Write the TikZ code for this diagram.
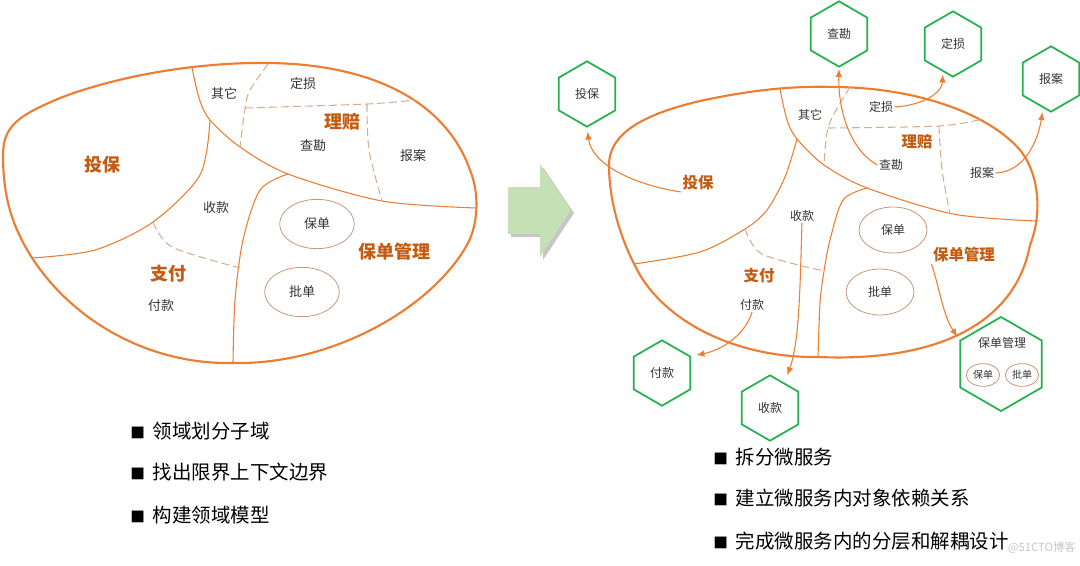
\documentclass[tikz,border=0pt]{standalone}
\usepackage{fontspec}
\setmainfont{Noto Sans CJK SC}
\usetikzlibrary{shapes.geometric,arrows.meta}
\definecolor{org}{HTML}{ED7D31}
\definecolor{lblc}{HTML}{C55A11}
\definecolor{dshc}{HTML}{D9AE8E}
\definecolor{ellc}{HTML}{C8967A}
\definecolor{hexg}{HTML}{22B14C}
\definecolor{txtc}{HTML}{333333}
\definecolor{arrg}{HTML}{C5E0B4}
\begin{document}
\begin{tikzpicture}[x=0.75pt,y=-0.75pt,
  outerline/.style={draw=org,line width=1.6pt},
  innerline/.style={draw=org,line width=0.8pt},
  dashline/.style={draw=dshc,line width=0.8pt,dash pattern=on 6pt off 3pt},
  lsmall/.style={font=\fontsize{9.75}{11}\selectfont,text=txtc,inner sep=1pt},
  lbig/.style={font=\fontsize{13.5}{15}\selectfont\bfseries,text=lblc,inner sep=1pt},
  rsmall/.style={font=\fontsize{9}{10}\selectfont,text=txtc,inner sep=1pt},
  rbig/.style={font=\fontsize{11.6}{13}\selectfont\bfseries,text=lblc,inner sep=1pt},
  ellnode/.style={ellipse,draw=ellc,line width=0.6pt,inner sep=0pt},
  hexnode/.style={regular polygon,regular polygon sides=6,shape border rotate=30,draw=hexg,line width=1.3pt,minimum size=49pt,inner sep=0pt,font=\fontsize{9}{10}\selectfont,text=txtc},
  conn/.style={draw=org,line width=0.8pt,-{Latex[length=6pt,width=5pt]}},
  bullet/.style={anchor=west,font=\fontsize{14.6}{16}\selectfont,text=black,inner sep=0pt}
]
\useasboundingbox (0,0) rectangle (1080,565);

% ================= LEFT DIAGRAM =================
\draw[outerline] (3,155) .. controls (3,125) and (20,115) .. (60,98)
  .. controls (120,75) and (200,62) .. (268,63)
  .. controls (370,64) and (445,100) .. (470,170)
  .. controls (480,195) and (478,225) .. (467,245)
  .. controls (430,310) and (330,365) .. (233,363)
  .. controls (130,365) and (45,300) .. (15,225)
  .. controls (5,200) and (3,175) .. cycle;
\draw[innerline] plot[smooth] coordinates {(192,67) (199,98) (210,120) (240,147) (288,174) (382,201) (476,208)};
\draw[innerline] plot[smooth] coordinates {(210,120) (200,175) (153,222) (95,250) (32,258)};
\draw[innerline] plot[smooth] coordinates {(288,174) (260,190) (243,240) (235,300) (233,363)};
\draw[dashline] plot[smooth] coordinates {(153,222) (172,247) (240,268)};
\draw[dashline] plot[smooth] coordinates {(268,64) (250,90) (245,108) (240,147)};
\draw[dashline] plot[smooth] coordinates {(245,108) (367,104) (415,100)};
\draw[dashline] plot[smooth] coordinates {(367,104) (369,150) (382,201)};

\node[lbig] (ltb) at (102,165) {投保};
\node[lsmall] (lqt) at (224,93) {其它};
\node[lsmall] (lds) at (303,84) {定损};
\node[lbig] (llp) at (342,122) {理赔};
\node[lsmall] (lkc) at (313,146) {查勘};
\node[lsmall] (lba) at (413,156) {报案};
\node[lsmall] (lsk) at (216,208) {收款};
\node[ellnode,lsmall,minimum width=56pt,minimum height=37pt] (lbd) at (317,224) {保单};
\node[ellnode,lsmall,minimum width=56pt,minimum height=37pt] (lpd) at (302,292) {批单};
\node[lbig] (lbdgl) at (394,252) {保单管理};
\node[lbig] (lzf) at (168,274) {支付};
\node[lsmall] (lfk) at (161,306) {付款};

% ================= BIG ARROW =================
\fill[gray!45] (511,190) -- (543,190) -- (543,167) -- (574,213) -- (543,260) -- (543,237) -- (511,237) -- cycle;
\fill[arrg] (508,187) -- (540,187) -- (540,164) -- (571,210) -- (540,257) -- (540,234) -- (508,234) -- cycle;

% ================= RIGHT DIAGRAM =================
\draw[outerline] (609,165) .. controls (609,135) and (640,115) .. (700,101)
  .. controls (760,88) and (800,86) .. (836,87)
  .. controls (920,88) and (990,115) .. (1020,150)
  .. controls (1040,175) and (1042,215) .. (1030,245)
  .. controls (1015,325) and (935,362) .. (818,357)
  .. controls (740,358) and (670,325) .. (640,275)
  .. controls (620,240) and (609,200) .. cycle;
\draw[innerline] plot[smooth] coordinates {(780,89) (787,120) (797,139) (824,165) (867,188) (953,214) (1036,221)};
\draw[innerline] plot[smooth] coordinates {(797,139) (785,177) (767,210) (745,229) (700,252) (634,264)};
\draw[innerline] plot[smooth] coordinates {(867,188) (843,200) (830,240) (824,271) (820,303) (818,357)};
\draw[dashline] plot[smooth] coordinates {(745,229) (762,254) (824,271)};
\draw[dashline] plot[smooth] coordinates {(850,87) (835,112) (828,128) (825,150) (824,165)};
\draw[dashline] plot[smooth] coordinates {(828,128) (939,126) (983,119)};
\draw[dashline] plot[smooth] coordinates {(939,126) (942,170) (950,214)};

\node[rbig] (rtb) at (698,183) {投保};
\node[rsmall] (rqt) at (810,115) {其它};
\node[rsmall] (rds) at (881,107) {定损};
\node[rbig] (rlp) at (917,142) {理赔};
\node[rsmall] (rkc) at (891,165) {查勘};
\node[rsmall] (rba) at (982,173) {报案};
\node[rsmall] (rsk) at (802,216) {收款};
\node[ellnode,rsmall,minimum width=51pt,minimum height=34.5pt] (rbd) at (893,230) {保单};
\node[ellnode,rsmall,minimum width=51pt,minimum height=34.5pt] (rpd) at (880,292) {批单};
\node[rbig] (rbdgl) at (964,255) {保单管理};
\node[rbig] (rzf) at (759,276) {支付};
\node[rsmall] (rfk) at (752,305) {付款};

% hexagons
\node[hexnode] (htb) at (587,94) {投保};
\node[hexnode] (hkc) at (839,34) {查勘};
\node[hexnode] (hds) at (953,44) {定损};
\node[hexnode] (hba) at (1051,79) {报案};
\node[hexnode] (hfk) at (662,373) {付款};
\node[hexnode] (hsk) at (770,408) {收款};
\node[hexnode,minimum size=70.5pt] (hbdgl) at (1001,364) {};
\node[rsmall] (hbdglt) at (1002,343) {保单管理};
\node[ellnode,font=\fontsize{7.5}{8}\selectfont,text=txtc,minimum width=25pt,minimum height=17pt] (hbd) at (983,375) {保单};
\node[ellnode,font=\fontsize{7.5}{8}\selectfont,text=txtc,minimum width=25pt,minimum height=17pt] (hpd) at (1022,375) {批单};

% connectors
\draw[conn,shorten >=3pt] (rtb.south west) .. controls (635,185) and (592,165) .. (htb.south);
\draw[conn,shorten >=1pt] (rkc.west) .. controls (850,150) and (838,110) .. (hkc.south);
\draw[conn,shorten >=2pt] (rds.east) .. controls (925,105) and (942,92) .. (hds.250);
\draw[conn,shorten >=3pt] (rba.east) .. controls (1025,172) and (1038,140) .. (hba.255);
\draw[conn,shorten >=4pt] (rfk.south) .. controls (745,335) and (722,350) .. (hfk.30);
\draw[conn,shorten >=6pt] (rsk.south) .. controls (800,280) and (800,340) .. (hsk.60);
\draw[conn,shorten >=3pt] (rbdgl.south west) .. controls (940,290) and (943,315) .. (hbdgl.150);

% ================= BULLETS =================
\node[bullet] (b1) at (130,431) {{\fontsize{11}{11}\selectfont ■}\hspace{6pt}领域划分子域};
\node[bullet] (b2) at (130,472) {{\fontsize{11}{11}\selectfont ■}\hspace{6pt}找出限界上下文边界};
\node[bullet] (b3) at (130,515) {{\fontsize{11}{11}\selectfont ■}\hspace{6pt}构建领域模型};
\node[bullet] (b4) at (713,457) {{\fontsize{11}{11}\selectfont ■}\hspace{6pt}拆分微服务};
\node[bullet] (b5) at (713,498) {{\fontsize{11}{11}\selectfont ■}\hspace{6pt}建立微服务内对象依赖关系};
\node[bullet] (b6) at (713,541) {{\fontsize{11}{11}\selectfont ■}\hspace{6pt}完成微服务内的分层和解耦设计};
\node[anchor=east,font=\fontsize{8.5}{9}\selectfont,text=gray!45,inner sep=0pt] (wm) at (1076,548) {@51CTO博客};
\end{tikzpicture}
\end{document}
